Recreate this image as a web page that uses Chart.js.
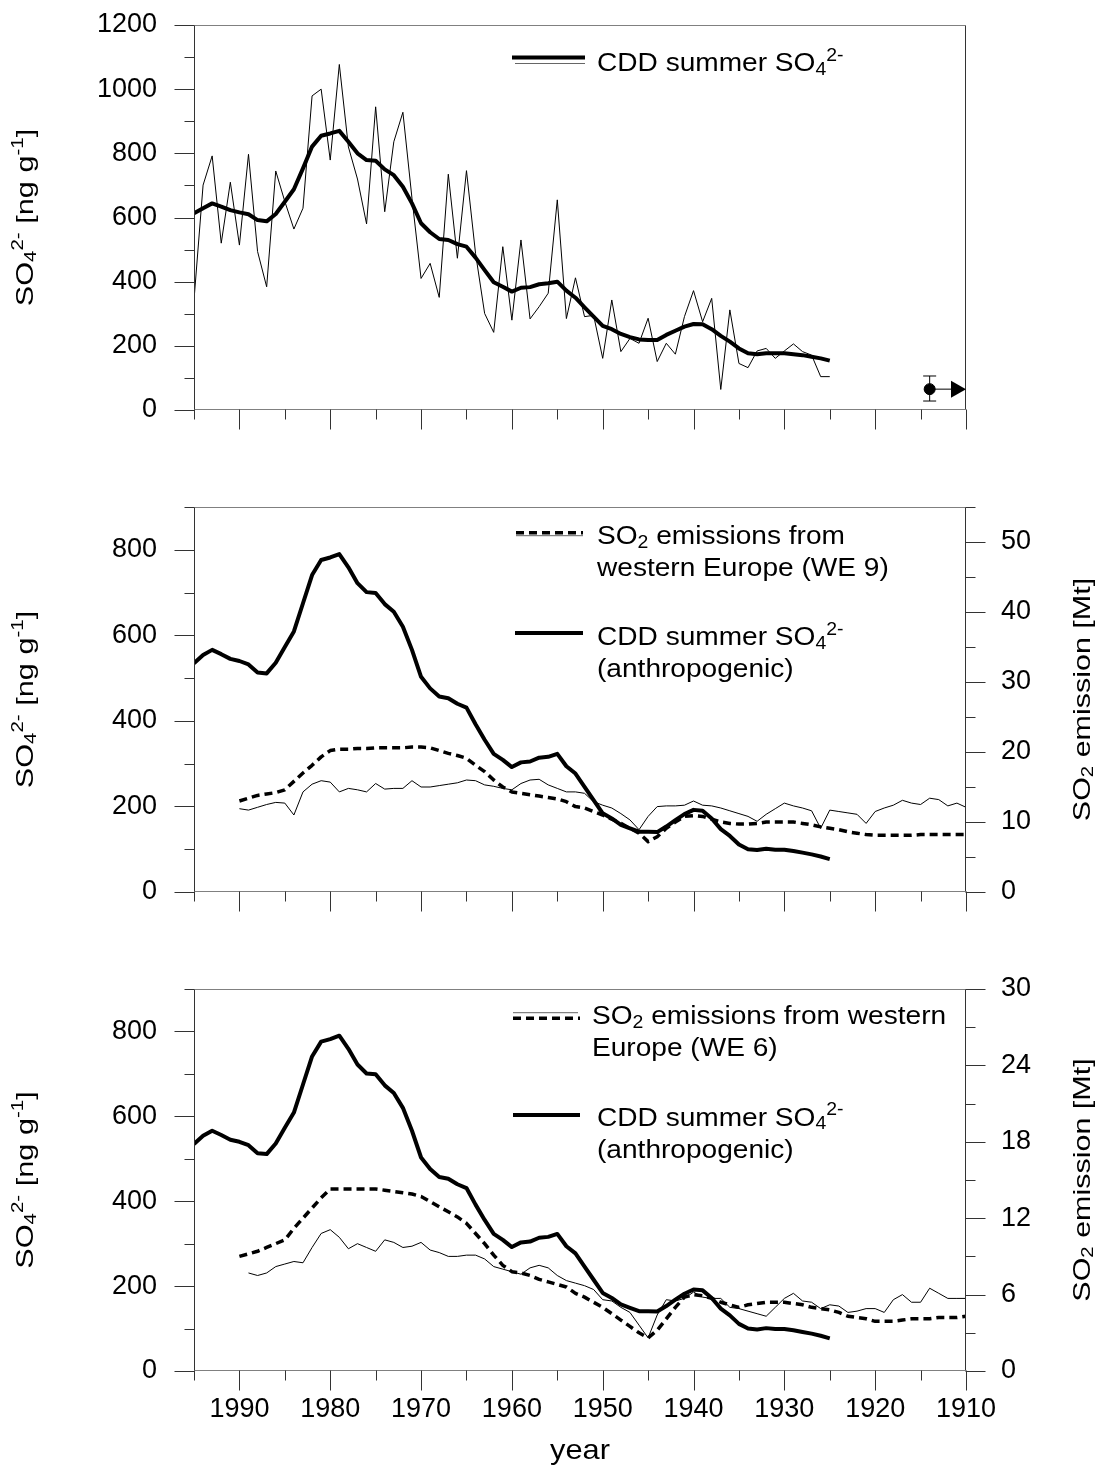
<!DOCTYPE html>
<html>
<head>
<meta charset="utf-8">
<title>CDD summer sulfate and SO2 emissions</title>
<script src="https://cdn.jsdelivr.net/npm/chart.js@4.4.1/dist/chart.umd.min.js"></script>
<style>
  html, body { margin: 0; padding: 0; background: #fff; }
  #page { position: relative; width: 1117px; height: 1474px; background: #fff; }
  .panel { position: absolute; left: 0; width: 1117px; }
</style>
</head>
<body>
<div id="page">
  <div class="panel" style="top:0;height:480px"><canvas id="cddChart"></canvas></div>
  <div class="panel" style="top:480px;height:480px"><canvas id="we9Chart"></canvas></div>
  <div class="panel" style="top:960px;height:514px"><canvas id="we6Chart"></canvas></div>
</div>
<script>
// ---- data ----
const yearsCdd = [1995, 1994, 1993, 1992, 1991, 1990, 1989, 1988, 1987, 1986,
  1985, 1984, 1983, 1982, 1981, 1980, 1979, 1978, 1977, 1976,
  1975, 1974, 1973, 1972, 1971, 1970, 1969, 1968, 1967, 1966,
  1965, 1964, 1963, 1962, 1961, 1960, 1959, 1958, 1957, 1956,
  1955, 1954, 1953, 1952, 1951, 1950, 1949, 1948, 1947, 1946,
  1945, 1944, 1943, 1942, 1941, 1940, 1939, 1938, 1937, 1936,
  1935, 1934, 1933, 1932, 1931, 1930, 1929, 1928, 1927, 1926,
  1925];

// CDD summer SO4 2- [ng/g], annual values (thin line)
const cddAnnual = [343, 701, 792, 520, 710, 514, 797, 494, 384, 745,
  650, 564, 629, 979, 1000, 779, 1077, 820, 720, 580,
  945, 618, 836, 928, 660, 410, 457, 351, 735, 473,
  746, 488, 301, 242, 509, 280, 530, 284, 322, 364,
  655, 285, 412, 291, 295, 161, 343, 182, 223, 208,
  286, 151, 208, 174, 291, 372, 275, 348, 64, 312,
  145, 132, 184, 192, 161, 184, 206, 182, 171, 104,
  104];

// CDD summer SO4 2-, smoothed (thick line)
const cddSmooth = [613, 629, 644, 634, 623, 616, 610, 592, 588, 611,
  649, 688, 753, 821, 855, 862, 870, 836, 800, 779,
  777, 750, 732, 696, 644, 582, 554, 533, 530, 517,
  509, 475, 436, 398, 384, 369, 381, 383, 392, 395,
  400, 372, 350, 320, 291, 262, 252, 237, 227, 220,
  218, 218, 234, 247, 260, 268, 267, 252, 231, 213,
  192, 177, 174, 177, 177, 177, 174, 171, 166, 161,
  154];

// CDD summer SO4 2- (anthropogenic)
const cddAnthro = [535, 554, 566, 556, 545, 540, 532, 513, 511, 536,
  573, 609, 675, 741, 776, 782, 790, 759, 722, 701,
  699, 673, 655, 620, 566, 503, 476, 457, 453, 440,
  431, 392, 356, 323, 309, 292, 303, 305, 314, 316,
  323, 294, 277, 246, 215, 184, 172, 157, 149, 141,
  141, 140, 153, 168, 182, 192, 190, 172, 147, 131,
  111, 100, 98, 101, 99, 99, 96, 92, 88, 83,
  77];

const yearsEm = [1990, 1989, 1988, 1987, 1986, 1985, 1984, 1983, 1982, 1981,
  1980, 1979, 1978, 1977, 1976, 1975, 1974, 1973, 1972, 1971,
  1970, 1969, 1968, 1967, 1966, 1965, 1964, 1963, 1962, 1961,
  1960, 1959, 1958, 1957, 1956, 1955, 1954, 1953, 1952, 1951,
  1950, 1949, 1948, 1947, 1946, 1945, 1944, 1943, 1942, 1941,
  1940, 1939, 1938, 1937, 1936, 1935, 1934, 1933, 1932, 1931,
  1930, 1929, 1928, 1927, 1926, 1925, 1924, 1923, 1922, 1921,
  1920, 1919, 1918, 1917, 1916, 1915, 1914, 1913, 1912, 1911,
  1910];

// SO2 emissions western Europe (WE 9) [Mt]
const we9Dashed = [13.0, 13.4, 13.8, 14.0, 14.2, 14.6, 15.8, 17.0, 18.1, 19.3,
  20.2, 20.4, 20.4, 20.5, 20.5, 20.6, 20.6, 20.6, 20.6, 20.7,
  20.7, 20.6, 20.2, 19.8, 19.5, 19.1, 18.1, 17.2, 16.0, 15.0,
  14.3, 14.1, 13.9, 13.7, 13.5, 13.3, 12.9, 12.2, 12.0, 11.5,
  11.0, 10.4, 9.8, 9.1, 8.4, 7.2, 7.9, 9.1, 10.0, 10.8,
  10.9, 10.8, 10.4, 10.0, 9.8, 9.7, 9.7, 9.8, 10.0, 10.0,
  10.0, 10.0, 9.8, 9.6, 9.3, 9.1, 8.9, 8.6, 8.4, 8.2,
  8.1, 8.1, 8.1, 8.1, 8.1, 8.2, 8.2, 8.2, 8.2, 8.2,
  8.2];
const we9Thin = [11.9, 11.7, 12.1, 12.5, 12.8, 12.7, 11.0, 14.3, 15.4, 15.9,
  15.7, 14.3, 14.8, 14.6, 14.3, 15.5, 14.7, 14.8, 14.8, 15.9,
  15.0, 15.0, 15.2, 15.4, 15.6, 16.0, 15.9, 15.3, 15.1, 14.8,
  14.6, 15.5, 16.0, 16.1, 15.3, 14.8, 14.3, 14.3, 14.1, 12.9,
  12.4, 12.0, 11.2, 10.3, 8.9, 10.8, 12.2, 12.3, 12.3, 12.4,
  13.0, 12.4, 12.3, 12.0, 11.6, 11.2, 10.8, 10.1, 11.1, 11.9,
  12.7, 12.3, 12.0, 11.6, 9.1, 11.7, 11.5, 11.3, 11.1, 9.8,
  11.5, 12.0, 12.4, 13.1, 12.7, 12.5, 13.4, 13.2, 12.3, 12.7,
  12.1];

// SO2 emissions western Europe (WE 6) [Mt]
const we6Dashed = [9.0, 9.2, 9.4, 9.7, 10.0, 10.3, 11.2, 12.0, 12.8, 13.6,
  14.3, 14.3, 14.3, 14.3, 14.3, 14.3, 14.2, 14.1, 14.0, 13.9,
  13.7, 13.3, 12.9, 12.5, 12.1, 11.6, 10.8, 10.0, 9.1, 8.3,
  7.8, 7.7, 7.5, 7.2, 7.0, 6.8, 6.6, 6.1, 5.8, 5.4,
  5.0, 4.5, 4.0, 3.5, 3.0, 2.6, 3.2, 4.1, 5.0, 5.8,
  6.0, 5.9, 5.7, 5.4, 5.2, 5.0, 5.2, 5.3, 5.4, 5.4,
  5.4, 5.3, 5.2, 5.0, 4.9, 4.8, 4.6, 4.3, 4.2, 4.1,
  3.9, 3.9, 3.9, 4.0, 4.1, 4.1, 4.1, 4.2, 4.2, 4.2,
  4.3];
const we6Thin = [null, 7.7, 7.5, 7.7, 8.2, 8.4, 8.6, 8.5, 9.7, 10.8,
  11.1, 10.5, 9.6, 10.0, 9.7, 9.4, 10.3, 10.1, 9.7, 9.8,
  10.1, 9.5, 9.3, 9.0, 9.0, 9.1, 9.1, 8.8, 8.2, 8.0,
  7.8, 7.6, 8.1, 8.3, 8.1, 7.5, 7.1, 6.9, 6.7, 6.4,
  5.6, 5.5, 5.0, 4.6, 3.6, 2.6, 4.4, 5.6, 5.5, 5.7,
  6.2, 5.8, 5.7, 5.7, 5.0, 4.9, 4.7, 4.5, 4.3, 5.0,
  5.7, 6.1, 5.5, 5.4, 4.9, 5.2, 5.1, 4.6, 4.7, 4.9,
  4.9, 4.6, 5.6, 6.0, 5.4, 5.4, 6.5, 6.1, 5.7, 5.7,
  5.7];

// pre-industrial level with error bar and arrow towards older ice
const baseYear = [1914];
const baseValue = [65];
const baseLow = [28];
const baseHigh = [106];
const arrowTo = [1910];

// text pieces: [text, '' | 'sub' | 'sup']
const sulfateTitle = [['SO', ''], ['4', 'sub'], ['2-', 'sup'], [' [ng g', ''], ['-1', 'sup'], [']', '']];
const emissionTitle = [['SO', ''], ['2', 'sub'], [' emission [Mt]', '']];
const cddLabel = [['CDD summer SO', ''], ['4', 'sub'], ['2-', 'sup']];
const anthroLabel = [cddLabel, [['(anthropogenic)', '']]];
const we9Label = [[['SO', ''], ['2', 'sub'], [' emissions from', '']], [['western Europe (WE 9)', '']]];
const we6Label = [[['SO', ''], ['2', 'sub'], [' emissions from western', '']], [['Europe (WE 6)', '']]];

const FONT = "'Liberation Sans', Arial, Helvetica, sans-serif";
const pts = (xs, ys) => xs.map((x, i) => ({ x: x, y: ys[i] }));

// draws text with sub/superscripts; sx stretches along the text direction
function drawRich(ctx, parts, x, y, size, opt) {
  opt = opt || {};
  const small = Math.round(size * 0.68);
  const widths = parts.map(([t, k]) => {
    ctx.font = (k ? small : size) + 'px ' + FONT;
    return ctx.measureText(t).width;
  });
  const total = widths.reduce((a, b) => a + b, 0);
  ctx.save();
  ctx.translate(x, y);
  if (opt.rotate) ctx.rotate(opt.rotate);
  ctx.scale(opt.sx || 1, 1);
  ctx.fillStyle = '#000';
  ctx.textBaseline = 'alphabetic';
  ctx.textAlign = 'left';
  let cx = opt.center ? -total / 2 : 0;
  parts.forEach(([t, k], i) => {
    ctx.font = (k ? small : size) + 'px ' + FONT;
    const dy = k === 'sub' ? size * 0.14 : (k === 'sup' ? -size * 0.4 : 0);
    ctx.fillText(t, cx, dy);
    cx += widths[i];
  });
  ctx.restore();
}

function sampleLine(ctx, kind, x1, x2, y) {
  ctx.save();
  ctx.strokeStyle = '#000';
  ctx.lineCap = 'butt';
  if (kind === 'thick') ctx.lineWidth = 4;
  else if (kind === 'dashed') { ctx.lineWidth = 3.5; ctx.setLineDash([8, 5]); }
  else { ctx.lineWidth = 1; ctx.strokeStyle = '#666'; }
  ctx.beginPath();
  ctx.moveTo(x1, y);
  ctx.lineTo(x2, y);
  ctx.stroke();
  ctx.restore();
}

const framePlugin = {
  id: 'frame',
  afterDraw(chart, args, o) {
    const ctx = chart.ctx;
    const a = chart.chartArea;
    ctx.save();
    // plot box
    ctx.lineWidth = 1;
    const L = Math.round(a.left) + 0.5, R = Math.round(a.right) - 0.5;
    const T = Math.round(a.top) + 0.5, B = Math.round(a.bottom) - 0.5;
    ctx.strokeStyle = '#808080';
    ctx.beginPath();
    ctx.moveTo(L, T); ctx.lineTo(R, T);
    ctx.moveTo(L, B); ctx.lineTo(R, B);
    ctx.stroke();
    ctx.strokeStyle = '#333';
    ctx.beginPath();
    ctx.moveTo(L, T); ctx.lineTo(L, B);
    ctx.moveTo(R, T); ctx.lineTo(R, B);
    ctx.stroke();

    // major / minor tick marks, outside the box
    (o.ticks || []).forEach(t => {
      const s = chart.scales[t.id];
      const n = Math.round((t.max - t.min) / t.minor);
      ctx.strokeStyle = '#333';
      ctx.beginPath();
      for (let i = 0; i <= n; i++) {
        const v = t.min + i * t.minor;
        const r = v / t.major;
        const len = Math.abs(r - Math.round(r)) < 1e-6 ? 20 : 10;
        const p = Math.round(s.getPixelForValue(v)) + 0.5;
        if (t.side === 'bottom') { ctx.moveTo(p, B); ctx.lineTo(p, B + len); }
        else if (t.side === 'left') { ctx.moveTo(L - len, p); ctx.lineTo(L, p); }
        else { ctx.moveTo(R, p); ctx.lineTo(R + len, p); }
      }
      ctx.stroke();
    });
    ctx.restore();

    // axis titles
    const cy = (a.top + a.bottom) / 2;
    if (o.leftTitle) drawRich(ctx, o.leftTitle, 33, cy, 24, { rotate: -Math.PI / 2, center: true, sx: 1.28 });
    if (o.rightTitle) drawRich(ctx, o.rightTitle, 1090, cy, 24, { rotate: -Math.PI / 2, center: true, sx: 1.27 });
    if (o.xTitle) drawRich(ctx, [[o.xTitle, '']], (a.left + a.right) / 2, o.xTitleY, 28, { center: true, sx: 1.1 });

    // legend
    (o.legend || []).forEach(item => {
      item.samples.forEach(sm => sampleLine(ctx, sm.kind, sm.x1, sm.x2, sm.y));
      item.lines.forEach((ln, i) => drawRich(ctx, ln, item.x, item.y + i * 32, 26, { sx: 1.08 }));
    });

    // error bar + arrow
    if (o.baseline) {
      const xs = chart.scales.x, ys = chart.scales.y;
      const px = xs.getPixelForValue(baseYear[0]);
      const py = ys.getPixelForValue(baseValue[0]);
      const lo = ys.getPixelForValue(baseLow[0]);
      const hi = ys.getPixelForValue(baseHigh[0]);
      const tip = xs.getPixelForValue(arrowTo[0]);
      ctx.save();
      ctx.strokeStyle = '#000';
      ctx.fillStyle = '#000';
      ctx.lineWidth = 1;
      ctx.beginPath();
      ctx.moveTo(px, hi); ctx.lineTo(px, lo);
      ctx.moveTo(px - 6.5, hi); ctx.lineTo(px + 6.5, hi);
      ctx.moveTo(px - 6.5, lo); ctx.lineTo(px + 6.5, lo);
      ctx.moveTo(px, py); ctx.lineTo(tip - 15, py);
      ctx.stroke();
      ctx.beginPath();
      ctx.moveTo(tip - 15, py - 8.5);
      ctx.lineTo(tip, py);
      ctx.lineTo(tip - 15, py + 8.5);
      ctx.closePath();
      ctx.fill();
      ctx.restore();
    }
  }
};

const tickFont = { family: FONT, size: 27 };
const plain = v => String(v);

function xScale(showLabels, height) {
  return {
    type: 'linear', reverse: true, min: 1910, max: 1995,
    grid: { display: false, drawTicks: false }, border: { display: false },
    ticks: { display: showLabels, stepSize: 10, includeBounds: false, autoSkip: false,
      maxRotation: 0, padding: 22, color: '#000', font: tickFont, callback: plain },
    afterFit: s => { s.height = height; }
  };
}
// label gap is made with an invisible tick so it does not pad the chart vertically
function yScale(pos, max, step, width, gap) {
  return {
    type: 'linear', position: pos, min: 0, max: max,
    grid: { display: true, drawOnChartArea: false, drawTicks: true, tickLength: gap, tickColor: 'rgba(0,0,0,0)' },
    border: { display: false },
    ticks: { stepSize: step, includeBounds: false, padding: 0, color: '#000', font: tickFont, callback: plain },
    afterFit: s => { s.width = width; }
  };
}
function lineSet(data, width, axis, dash) {
  return {
    data: data, yAxisID: axis, borderColor: '#000', backgroundColor: '#000',
    borderWidth: width, borderDash: dash || [], pointRadius: 0, tension: 0,
    borderJoinStyle: 'round', fill: false, spanGaps: false
  };
}
const common = {
  responsive: true, maintainAspectRatio: false, animation: false, events: [],
};

const xTicks = { id: 'x', side: 'bottom', min: 1910, max: 1995, minor: 5, major: 10 };

// panel 1
new Chart(document.getElementById('cddChart'), {
  type: 'line',
  data: {
    datasets: [
      lineSet(pts(yearsCdd, cddSmooth), 4, 'y'),
      lineSet(pts(yearsCdd, cddAnnual), 1, 'y'),
      { type: 'scatter', data: pts(baseYear, baseValue), yAxisID: 'y', pointRadius: 5.5,
        backgroundColor: '#000', borderColor: '#000', showLine: false }
    ]
  },
  options: Object.assign({}, common, {
    layout: { padding: { top: 25, right: 151, bottom: 0, left: 0 } },
    scales: { x: xScale(false, 70), y: yScale('left', 1200, 200, 194, 37) },
    plugins: {
      legend: { display: false }, tooltip: { enabled: false },
      frame: {
        ticks: [xTicks, { id: 'y', side: 'left', min: 0, max: 1200, minor: 100, major: 200 }],
        leftTitle: sulfateTitle,
        baseline: true,
        legend: [{
          x: 597, y: 71, lines: [cddLabel],
          samples: [{ kind: 'thick', x1: 512, x2: 585, y: 57.5 }, { kind: 'thin', x1: 515, x2: 585, y: 63.5 }]
        }]
      }
    }
  }),
  plugins: [framePlugin]
});

// panel 2
new Chart(document.getElementById('we9Chart'), {
  type: 'line',
  data: {
    datasets: [
      lineSet(pts(yearsCdd, cddAnthro), 4, 'y'),
      lineSet(pts(yearsEm, we9Dashed), 3.5, 'yR', [8, 5]),
      lineSet(pts(yearsEm, we9Thin), 1, 'yR')
    ]
  },
  options: Object.assign({}, common, {
    layout: { padding: { top: 27, right: 0, bottom: 0, left: 0 } },
    scales: {
      x: xScale(false, 68),
      y: yScale('left', 900, 200, 194, 37),
      yR: yScale('right', 55, 10, 151, 35)
    },
    plugins: {
      legend: { display: false }, tooltip: { enabled: false },
      frame: {
        ticks: [xTicks,
          { id: 'y', side: 'left', min: 0, max: 900, minor: 100, major: 200 },
          { id: 'yR', side: 'right', min: 0, max: 55, minor: 5, major: 10 }],
        leftTitle: sulfateTitle,
        rightTitle: emissionTitle,
        legend: [
          { x: 597, y: 64, lines: we9Label,
            samples: [{ kind: 'thin', x1: 516, x2: 583, y: 55.7 }, { kind: 'dashed', x1: 516, x2: 583, y: 52.7 }] },
          { x: 597, y: 165, lines: anthroLabel,
            samples: [{ kind: 'thick', x1: 515, x2: 583, y: 153 }] }
        ]
      }
    }
  }),
  plugins: [framePlugin]
});

// panel 3
new Chart(document.getElementById('we6Chart'), {
  type: 'line',
  data: {
    datasets: [
      lineSet(pts(yearsCdd, cddAnthro), 4, 'y'),
      lineSet(pts(yearsEm, we6Dashed), 3.5, 'yR', [8, 5]),
      lineSet(pts(yearsEm, we6Thin), 1, 'yR')
    ]
  },
  options: Object.assign({}, common, {
    layout: { padding: { top: 29, right: 0, bottom: 0, left: 0 } },
    scales: {
      x: xScale(true, 103),
      y: yScale('left', 900, 200, 194, 37),
      yR: yScale('right', 30, 6, 151, 35)
    },
    plugins: {
      legend: { display: false }, tooltip: { enabled: false },
      frame: {
        ticks: [xTicks,
          { id: 'y', side: 'left', min: 0, max: 900, minor: 100, major: 200 },
          { id: 'yR', side: 'right', min: 0, max: 30, minor: 3, major: 6 }],
        leftTitle: sulfateTitle,
        rightTitle: emissionTitle,
        xTitle: 'year', xTitleY: 499,
        legend: [
          { x: 592, y: 64, lines: we6Label,
            samples: [{ kind: 'thin', x1: 513, x2: 578, y: 52.7 }, { kind: 'dashed', x1: 513, x2: 580, y: 58.3 }] },
          { x: 597, y: 165.7, lines: anthroLabel,
            samples: [{ kind: 'thick', x1: 513, x2: 580, y: 155 }] }
        ]
      }
    }
  }),
  plugins: [framePlugin]
});
</script>
</body>
</html>
